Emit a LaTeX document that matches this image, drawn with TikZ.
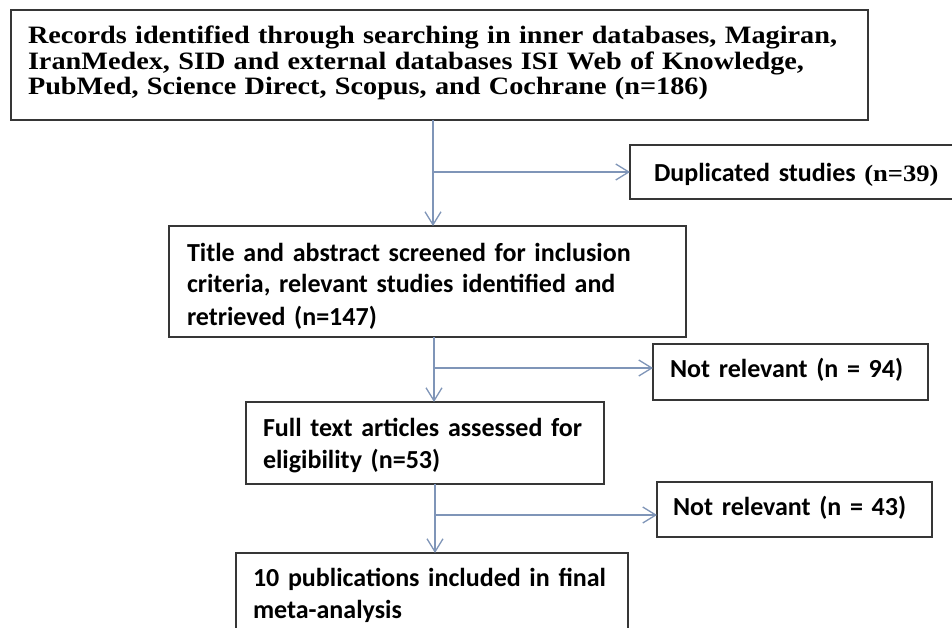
\documentclass[tikz,border=0pt]{standalone}
\usepackage{fontspec}
\newfontfamily\calibri{Carlito}
\newfontfamily\cambria{Liberation Serif}[FakeStretch=1.13]
\usetikzlibrary{arrows.meta}
\definecolor{arrowc}{HTML}{7F95B8}
\definecolor{boxc}{HTML}{363636}
\tikzset{
 box/.style={draw=boxc, line width=1.6pt, rectangle, inner ysep=0pt, anchor=north west, align=left, outer sep=0pt},
 sansbox/.style={box, font=\calibri\bfseries\fontsize{26}{32}\selectfont},
 serifbox/.style={box, font=\cambria\bfseries\fontsize{25}{25.5}\selectfont},
 arr/.style={draw=arrowc, line width=1.3pt, -{Straight Barb[length=13pt,width=16pt,line width=1.3pt]}},
}
\newcommand{\up}[1]{\rule{0pt}{#1pt}}
\newcommand{\dn}[1]{\rule[-#1pt]{0pt}{#1pt}}
\begin{document}
\begin{tikzpicture}[x=1pt,y=-1pt]
\useasboundingbox (0,0) rectangle (952,628);
\clip (0,0) rectangle (952,628);
\fill[white] (0,0) rectangle (952,628);

\node[serifbox, inner xsep=17pt, text width=823pt] (rec) at (11,10)
 {\mbox{\up{34}Records identified through searching in inner databases, Magiran,}\\
  \mbox{IranMedex, SID and external databases ISI Web of Knowledge,}\\
  \mbox{PubMed, Science Direct, Scopus, and Cochrane (n=186)\dn{25}}};

\node[sansbox, inner xsep=24pt, text width=290pt] (dup) at (630,145)
 {\mbox{\up{37}Duplicated studies {\cambria\bfseries\fontsize{23.5}{32}\selectfont(n=39)}\dn{17}}};

\node[sansbox, inner xsep=18pt, text width=481pt] (title) at (169,226)
 {\mbox{\up{35}Title and abstract screened for inclusion}\\
  \mbox{criteria, relevant studies identified and}\\
  \mbox{retrieved (n=147)\dn{12}}};

\node[sansbox, inner xsep=17pt, text width=241pt] (nr94) at (653,344)
 {\mbox{\up{33}Not relevant (n = 94)\dn{23}}};

\node[sansbox, inner xsep=17pt, text width=324pt] (full) at (246,402)
 {\mbox{\up{34}Full text articles assessed for}\\
  \mbox{eligibility (n=53)\dn{16}}};

\node[sansbox, inner xsep=16pt, text width=243pt] (nr43) at (657,482)
 {\mbox{\up{33}Not relevant (n = 43)\dn{22}}};

\node[sansbox, inner xsep=17pt, text width=358pt] (final) at (236,553)
 {\mbox{\up{33}10 publications included in final}\\
  \mbox{meta-analysis\dn{32}}};

\coordinate (j1) at (433,172);
\coordinate (j2) at (434,368);
\coordinate (j3) at (435,515);

\draw[arr] (rec.south -| j1) -- (title.north -| j1);
\draw[arr] (j1) -- (dup.west |- j1);
\draw[arr] (title.south -| j2) -- (full.north -| j2);
\draw[arr] (j2) -- (nr94.west |- j2);
\draw[arr] (full.south -| j3) -- (final.north -| j3);
\draw[arr] (j3) -- (nr43.west |- j3);
\end{tikzpicture}
\end{document}
